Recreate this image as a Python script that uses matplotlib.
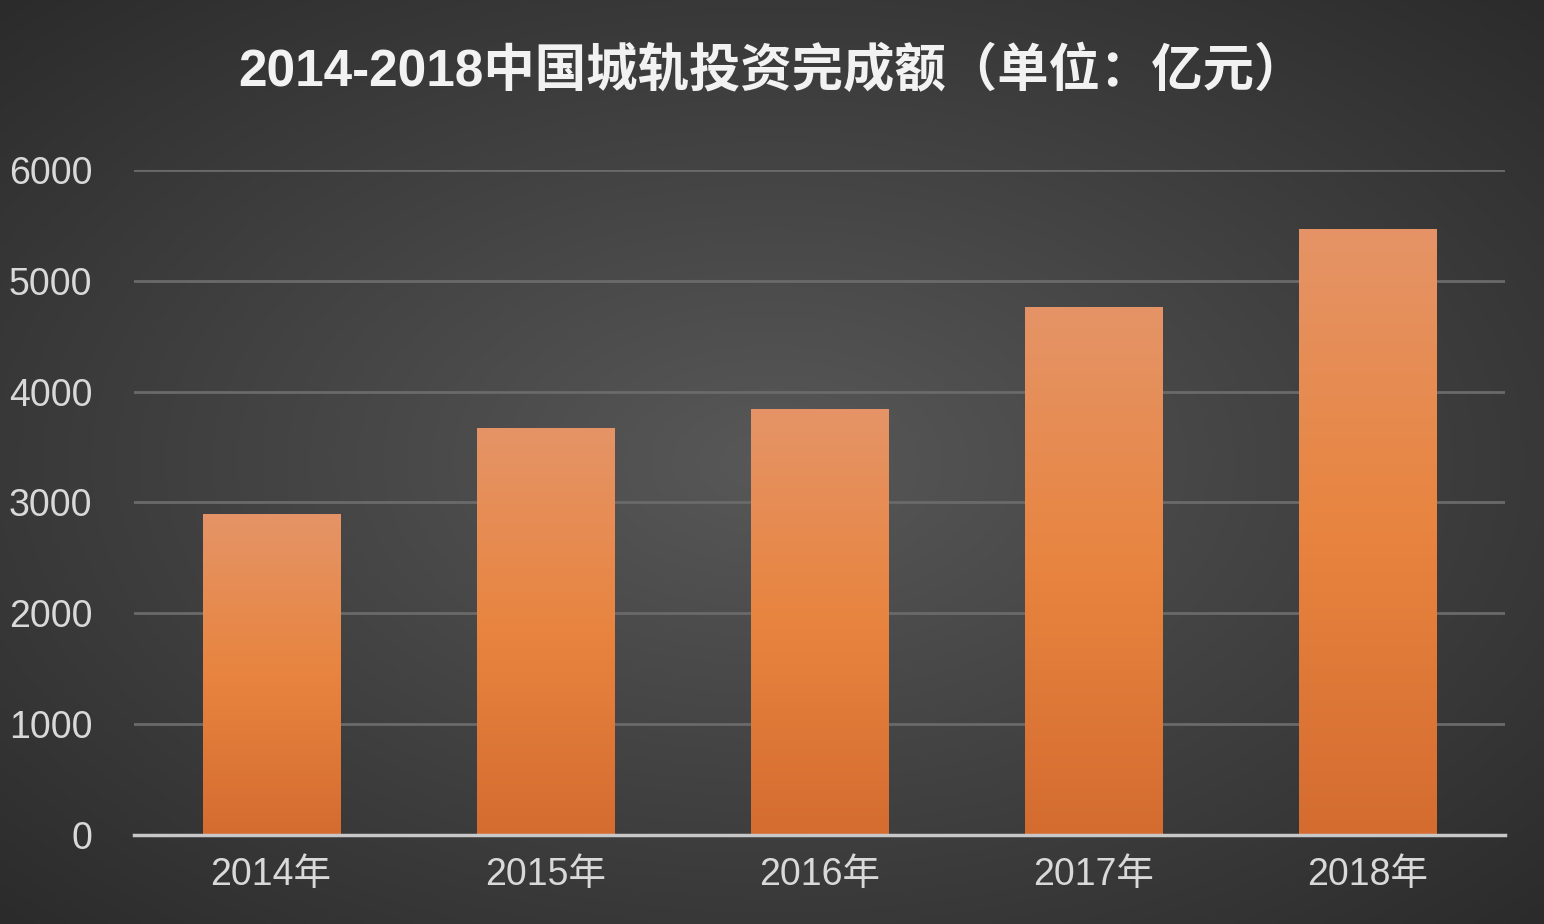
import numpy as np
import matplotlib
matplotlib.use('Agg')
import matplotlib.pyplot as plt
from matplotlib.colors import LinearSegmentedColormap

plt.rcParams['font.family'] = ['Liberation Sans', 'Noto Sans CJK SC', 'DejaVu Sans']

years = ['2014年', '2015年', '2016年', '2017年', '2018年']
values = [2897, 3673, 3847, 4762, 5470]
title = '2014-2018中国城轨投资完成额（单位：亿元）'

fig = plt.figure(figsize=(15.44, 9.24), dpi=100)

# radial background
bg = fig.add_axes([0, 0, 1, 1], zorder=0)
yy, xx = np.mgrid[-1:1:400j, -1:1:600j]
r = np.sqrt(xx**2 + yy**2)
bgcmap = LinearSegmentedColormap.from_list('bg', ['#585858', '#2a2a2a'])
bg.imshow(r, cmap=bgcmap, aspect='auto', vmin=0, vmax=1.45)
bg.axis('off')

ax = fig.add_axes([134/1544, 1 - 835/924, (1505-134)/1544, (835-170)/924], zorder=1)
ax.patch.set_alpha(0)
x = np.arange(len(years))
bars = ax.bar(x, values, 0.5, color='none', zorder=3)
barcmap = LinearSegmentedColormap.from_list('bar', ['#d46c30', '#e8843f', '#e59467'])
grad = np.linspace(0, 1, 256).reshape(-1, 1)
for b in bars:
    x0, w, h = b.get_x(), b.get_width(), b.get_height()
    im = ax.imshow(grad, cmap=barcmap, aspect='auto', origin='lower',
                   extent=[x0, x0 + w, 0, h], zorder=3)
    im.set_clip_path(b)
ax.set_xlim(-0.5, len(years) - 0.5)
ax.set_ylim(0, 6000)
ax.set_yticks(range(0, 6001, 1000))
ax.set_xticks(x, years)
ax.grid(axis='y', color='#6a6a6a', linewidth=2, zorder=0)
for s in ['top', 'right', 'left']:
    ax.spines[s].set_visible(False)
ax.spines['bottom'].set_color('#c8c8c8')
ax.spines['bottom'].set_linewidth(2.5)
ax.spines['bottom'].set_zorder(4)
ax.tick_params(length=0, labelsize=27, colors='#d9d9d9', pad=16)
ax.tick_params(axis='y', pad=30)

fig.text(0.5, 1 - 72/924, title, ha='center', va='center', fontsize=37,
         fontweight='bold', color='#f2f2f2',
         family=['Liberation Sans', 'Noto Sans CJK SC'])

fig.savefig('out.png', dpi=100)
